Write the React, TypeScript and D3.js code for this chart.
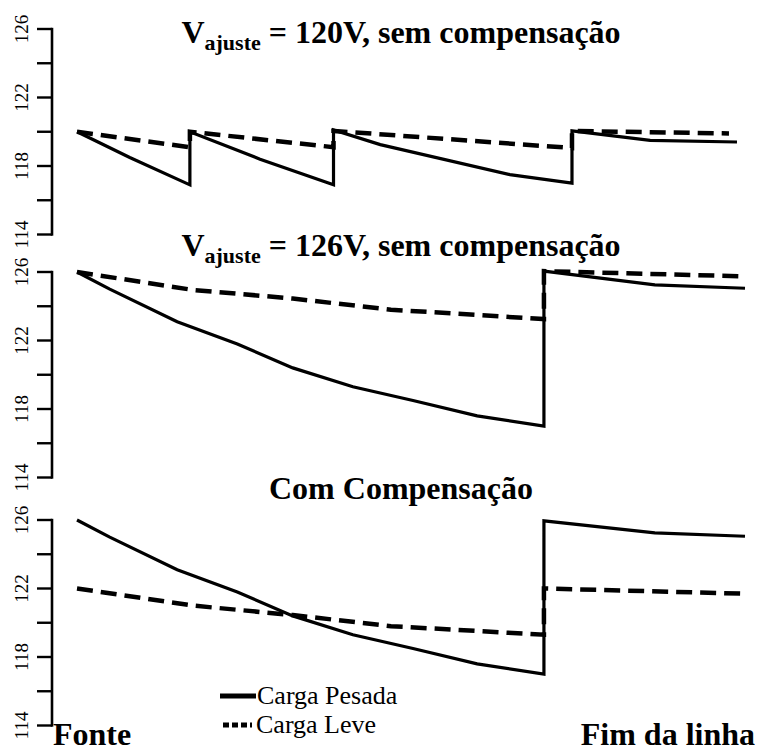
import React from "react";
import * as d3 from "d3";

// ---- data ----
const yTicks = [114, 116, 118, 120, 122, 124, 126];
const yTickLabels = ["114", "", "118", "", "122", "", "126"];

// panel 1: V_ajuste = 120V
const p1HeavyX = [0, 7.9, 16.9, 16.9, 27.4, 38.4, 38.4, 45.4, 64.8, 74.1, 74.1, 85.8, 98.8];
const p1HeavyV = [120, 118.5, 116.9, 120, 118.4, 116.9, 120.1, 119.25, 117.5, 117.0, 120.05, 119.5, 119.4];
const p1LightX = [0, 16.9, 16.9, 38.4, 38.4, 74.1, 74.1, 97.6];
const p1LightV = [120, 119.1, 120, 119.1, 120.05, 119.05, 120.05, 119.9];

// panel 2: V_ajuste = 126V
const p2HeavyX = [0, 4.9, 15, 24, 32.3, 41.3, 50.3, 59.9, 69.9, 69.9, 86.5, 100];
const p2HeavyV = [126, 125.0, 123.1, 121.8, 120.4, 119.3, 118.5, 117.6, 117.0, 126.05, 125.25, 125.05];
const p2LightX = [0, 17.4, 32.3, 47, 69.9, 69.9, 99.3];
const p2LightV = [126, 124.95, 124.45, 123.8, 123.25, 126.05, 125.75];

// panel 3: com compensação
const p3HeavyX = [0, 4.9, 15, 24, 32.3, 41.3, 50.3, 59.9, 69.9, 69.9, 86.5, 100];
const p3HeavyV = [126, 125.0, 123.1, 121.8, 120.4, 119.3, 118.5, 117.6, 117.0, 125.95, 125.25, 125.05];
const p3LightX = [0, 17.4, 32.3, 47, 69.9, 69.9, 99.5];
const p3LightV = [122, 121.0, 120.45, 119.8, 119.3, 122.0, 121.7];

const legendLabels = ["Carga Pesada", "Carga Leve"];
const xLabels = ["Fonte", "Fim da linha"];

const FONT = '"Liberation Serif", "Times New Roman", Tinos, "DejaVu Serif", serif';

const W = 763;
const H = 753;

const x = d3.scaleLinear().domain([0, 100]).range([77, 745]);

const panels = [
  { top: 29, hx: p1HeavyX, hv: p1HeavyV, lx: p1LightX, lv: p1LightV },
  { top: 272, hx: p2HeavyX, hv: p2HeavyV, lx: p2LightX, lv: p2LightV },
  { top: 520, hx: p3HeavyX, hv: p3HeavyV, lx: p3LightX, lv: p3LightV },
];
const PH = 205.5;

const txt = (size: number, bold = false): React.CSSProperties => ({
  fontFamily: FONT,
  fontSize: size,
  fontWeight: bold ? 700 : 400,
});

function Panel({ top, hx, hv, lx, lv }: any) {
  const y = d3.scaleLinear().domain([114, 126]).range([top + PH, top]);
  const line = d3
    .line<[number, number]>()
    .x((d) => x(d[0]))
    .y((d) => y(d[1]));
  const heavy = hx.map((v: number, i: number) => [v, hv[i]] as [number, number]);
  const light = lx.map((v: number, i: number) => [v, lv[i]] as [number, number]);
  const axisX = 52;
  return (
    <g>
      <line x1={axisX} x2={axisX} y1={y(126) - 1.2} y2={y(114) + 1.2} stroke="#000" strokeWidth={2.6} />
      {yTicks.map((t, i) => (
        <g key={t}>
          <line x1={37} x2={axisX} y1={y(t)} y2={y(t)} stroke="#000" strokeWidth={2.4} />
          {yTickLabels[i] && (
            <text transform={`translate(28,${y(t)}) rotate(-90)`} textAnchor="middle" style={txt(19)}>
              {yTickLabels[i]}
            </text>
          )}
        </g>
      ))}
      <path d={line(light) || ""} fill="none" stroke="#000" strokeWidth={4.5} strokeDasharray="16,8" />
      <path d={line(heavy) || ""} fill="none" stroke="#000" strokeWidth={3.2} strokeLinejoin="miter" />
    </g>
  );
}

function Title({ y, v, tail }: { y: number; v: string; tail: string }) {
  return (
    <text x={401} y={y} textAnchor="middle" style={txt(32, true)}>
      <tspan>{v}</tspan>
      <tspan style={{ fontSize: 22 }} dy={7}>
        ajuste
      </tspan>
      <tspan dy={-7}>{tail}</tspan>
    </text>
  );
}

export default function App() {
  return (
    <svg width={W} height={H} style={{ display: "block", position: "absolute", left: 0, top: 0 }}>
      <rect width={W} height={H} fill="#fff" />
      {panels.map((p, i) => (
        <Panel key={i} {...p} />
      ))}
      <Title y={43} v="V" tail=" = 120V, sem compensação" />
      <Title y={256} v="V" tail=" = 126V, sem compensação" />
      <text x={401} y={499} textAnchor="middle" style={txt(32, true)}>
        Com Compensação
      </text>
      {/* legend */}
      <line x1={220} x2={256} y1={696} y2={696} stroke="#000" strokeWidth={5} />
      <text x={257} y={704} style={txt(26)}>
        {legendLabels[0]}
      </text>
      <line x1={223} x2={252} y1={725} y2={725} stroke="#000" strokeWidth={5} strokeDasharray="6,3" />
      <text x={256} y={733} style={txt(26)}>
        {legendLabels[1]}
      </text>
      {/* x labels */}
      <text x={53} y={745} style={txt(32, true)}>
        {xLabels[0]}
      </text>
      <text x={755} y={745} textAnchor="end" style={txt(32, true)}>
        {xLabels[1]}
      </text>
    </svg>
  );
}
